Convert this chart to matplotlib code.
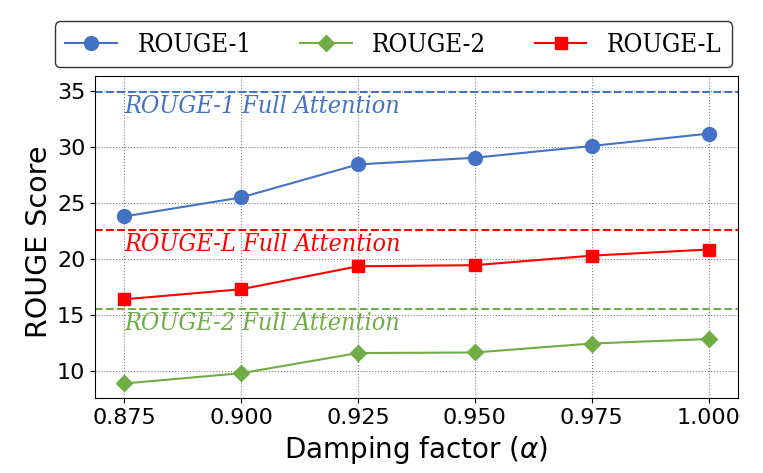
import matplotlib
matplotlib.use('Agg')
import matplotlib.pyplot as plt

# Данные
alphas = [0.875, 0.900, 0.925, 0.950, 0.975, 1.000]
rouge_1 = [23.8, 25.5, 28.45, 29.05, 30.1, 31.2]
rouge_2 = [8.88, 9.8, 11.6, 11.65, 12.45, 12.85]
rouge_l = [16.4, 17.3, 19.35, 19.45, 20.3, 20.85]

full_attention = {'ROUGE-1': 34.9, 'ROUGE-L': 22.6, 'ROUGE-2': 15.5}

blue = '#4472C4'
green = '#70AD47'
red = '#FF0000'

fig = plt.figure(figsize=(7.63, 4.73), dpi=100)
ax = fig.add_axes([0.1245, 0.158, 0.8424, 0.6813])

ax.plot(alphas, rouge_1, marker='o', color=blue, linewidth=1.5, markersize=10, label='ROUGE-1')
ax.plot(alphas, rouge_2, marker='D', color=green, linewidth=1.5, markersize=8, label='ROUGE-2')
ax.plot(alphas, rouge_l, marker='s', color=red, linewidth=1.5, markersize=8.5, label='ROUGE-L')

# Линии полного внимания
colors = {'ROUGE-1': blue, 'ROUGE-L': red, 'ROUGE-2': green}
for name, val in full_attention.items():
    ax.axhline(val, color=colors[name], linestyle='--', linewidth=1.5)
    ax.text(0.875, val - 1.3, f'{name} Full Attention', color=colors[name],
            fontsize=18, family='DejaVu Serif', style='italic', stretch='condensed',
            va='center', ha='left')

ax.set_xlim(0.86875, 1.00625)
ax.set_ylim(7.56, 36.35)
ax.set_xticks(alphas)
ax.set_xticklabels([f'{a:.3f}' for a in alphas])
ax.set_yticks([10, 15, 20, 25, 30, 35])
ax.tick_params(labelsize=16)
ax.grid(True, linestyle=':', color='gray', linewidth=0.8)

ax.set_xlabel(r'Damping factor ($\alpha$)', fontsize=20)
ax.set_ylabel('ROUGE Score', fontsize=20.5)
ax.yaxis.set_label_coords(-0.0655, 0.485)

fig.legend(loc='upper center', bbox_to_anchor=(0.5157, 0.982), ncol=3,
           prop={'family': 'DejaVu Serif', 'size': 18.5, 'stretch': 'condensed'},
           edgecolor='#333333', framealpha=1, handlelength=2.0, columnspacing=1.9)

plt.savefig('out.png', dpi=100)
